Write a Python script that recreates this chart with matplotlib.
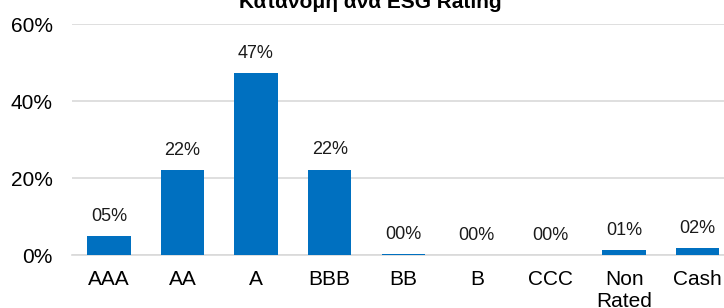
import matplotlib
matplotlib.use("Agg")
import matplotlib.pyplot as plt
from matplotlib.ticker import FuncFormatter

categories = ["AAA", "AA", "A", "BBB", "BB", "B", "CCC", "Non\nRated", "Cash"]
values = [5.0, 22.0, 47.3, 22.2, 0.2, 0.0, 0.0, 1.3, 1.7]

BLUE = "#0070C0"
GRID = "#D9D9D9"

plt.rcParams["font.family"] = ["Liberation Sans", "DejaVu Sans"]

fig = plt.figure(figsize=(7.24, 3.08), dpi=100)
ax = fig.add_axes([0.0995, 0.172, 0.915, 0.750])

x = range(len(categories))
bars = ax.bar(x, values, width=0.59, color=BLUE, zorder=3)
for b, v in zip(bars, values):
    ax.annotate(f"{v:02.0f}%", (b.get_x() + b.get_width() / 2, v),
                textcoords="offset points", xytext=(0, 8), ha="center",
                va="bottom", fontsize=13, color="#1a1a1a")

ax.set_xlim(-0.5, len(categories) - 0.5)
ax.set_ylim(0, 60)
ax.set_yticks([0, 20, 40, 60])
ax.yaxis.set_major_formatter(FuncFormatter(lambda v, p: f"{v:.0f}%"))
ax.set_xticks(list(x))
ax.set_xticklabels(categories, fontsize=15, va="top", linespacing=1.2)
ax.tick_params(axis="y", labelsize=15, length=0, pad=14)
ax.tick_params(axis="x", length=0, pad=11)
ax.grid(axis="y", color=GRID, lw=1.2, zorder=0)
for s in ("top", "right", "left"):
    ax.spines[s].set_visible(False)
ax.spines["bottom"].set_color(GRID)
ax.spines["bottom"].set_linewidth(1.2)

fig.text(0.511, 1 - 8 / 308, "Κατανομή ανά ESG Rating", ha="center", va="baseline",
         fontsize=15, fontweight="bold")

fig.savefig("out.png", dpi=100)
